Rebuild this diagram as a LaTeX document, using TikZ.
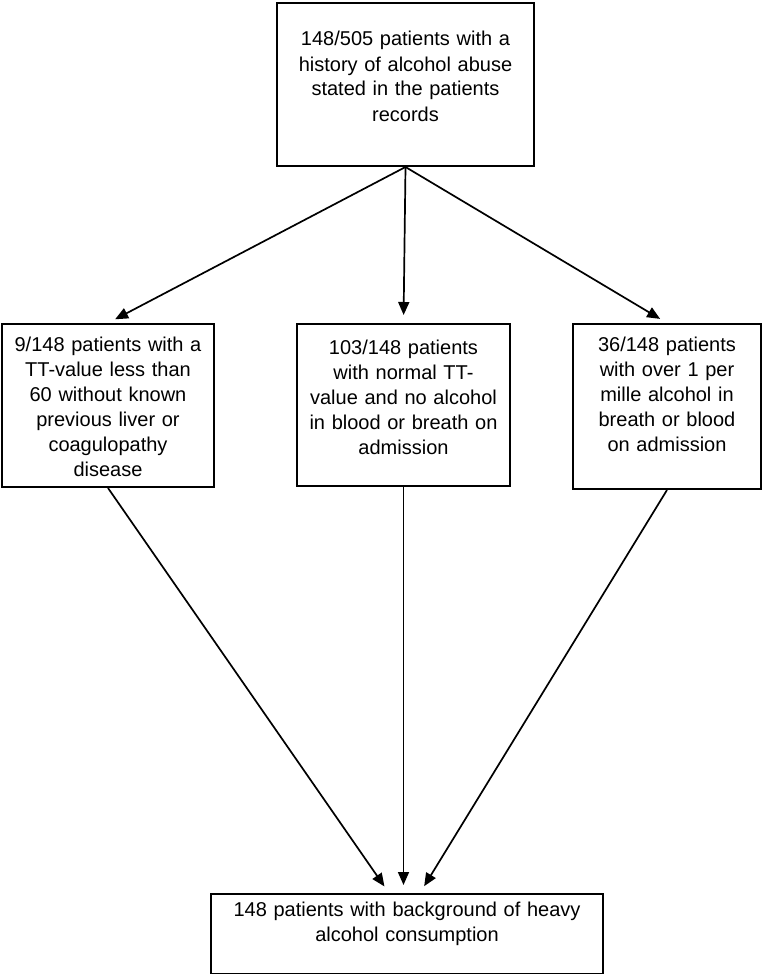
\documentclass[tikz,border=0pt]{standalone}
\usepackage{fontspec}
\setmainfont{Liberation Sans}
\usetikzlibrary{arrows.meta}
\begin{document}
\begin{tikzpicture}[x=1pt, y=-1pt,
    box/.style={draw, line width=2pt, fill=white, align=center, inner sep=0pt,
      anchor=north, font=\fontsize{20}{25}\selectfont},
    arr/.style={line width=1.7pt, -{Triangle[length=13pt,width=11pt]}, shorten >=8pt}]
  \useasboundingbox (0,0) rectangle (762,974);
  \node[box, text width=257pt, text height=43pt, text depth=120pt] (top) at (405.5,2)
    {148/505 patients with a\\history of alcohol abuse\\stated in the patients\\records};
  \node[box, text width=212pt, text height=27pt, text depth=136pt] (left) at (108,323)
    {9/148 patients with a\\TT-value less than\\60 without known\\previous liver or\\coagulopathy\\disease};
  \node[box, text width=213pt, text height=30pt, text depth=132pt] (mid) at (403.5,323)
    {103/148 patients\\with normal TT-\\value and no alcohol\\in blood or breath on\\admission};
  \node[box, text width=188pt, text height=27pt, text depth=138pt] (right) at (667,323)
    {36/148 patients\\with over 1 per\\mille alcohol in\\breath or blood\\on admission};
  \node[box, text width=392pt, text height=22pt, text depth=58pt] (bot) at (407,893)
    {148 patients with background of heavy\\alcohol consumption};
  \draw[arr] (top.south) -- (left.north);
  \draw[arr] (top.south) -- (mid.north);
  \draw[arr] (top.south) -- (right.north);
  \draw[arr] (left.south) -- ([xshift=-18pt]bot.north);
  \draw[arr] (mid.south) -- (mid.south |- bot.north);
  \draw[arr] (right.south) -- ([xshift=13pt]bot.north);
\end{tikzpicture}
\end{document}
